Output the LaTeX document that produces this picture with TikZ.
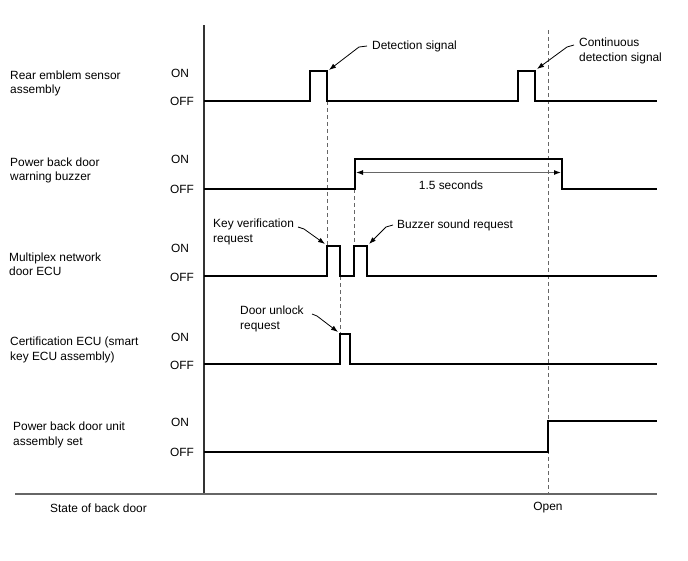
\documentclass[tikz,border=0pt]{standalone}
\usepackage{fontspec}
\setmainfont{Liberation Sans}
\usetikzlibrary{arrows.meta}
\begin{document}
\begin{tikzpicture}[x=1pt,y=-1pt,
  sig/.style={line width=2.3pt, line join=miter},
  axisline/.style={line width=1.1pt, draw=black!80},
  baseline/.style={line width=1.6pt, draw=black!60},
  guide/.style={dash pattern=on 4pt off 3pt, line width=0.9pt, draw=black!60},
  leader/.style={line width=0.8pt, -{Latex[length=7pt,width=5pt]}},
  dimline/.style={line width=1.1pt, draw=black!60, {Latex[length=7pt,width=5pt,color=black]}-{Latex[length=7pt,width=5pt,color=black]}},
  lbl/.style={anchor=west, inner sep=0pt, align=left, font=\fontsize{11.9}{14.5}\selectfont},
  ctr/.style={anchor=center, inner sep=0pt, font=\fontsize{11.9}{14.5}\selectfont}]
\useasboundingbox (0,0) rectangle (688,560);
\fill[white] (0,0) rectangle (688,560);

% axes
\coordinate (axT) at (204,25);
\coordinate (axB) at (204,494);
\coordinate (blL) at (15,494);
\coordinate (blR) at (657,494);
\draw[axisline] (axT) -- (axB);
\draw[baseline] (blL) -- (blR);

% guide lines
\coordinate (g1a) at (327,101); \coordinate (g1b) at (327,246);
\coordinate (g2a) at (354,189); \coordinate (g2b) at (354,246);
\coordinate (g3a) at (340,276); \coordinate (g3b) at (340,334);
\coordinate (g4a) at (548,30);  \coordinate (g4b) at (548,494);
\draw[guide] (g1a) -- (g1b);
\draw[guide] (g2a) -- (g2b);
\draw[guide] (g3a) -- (g3b);
\draw[guide] (g4a) -- (g4b);

% row labels
\node[lbl] (r1) at (10,83.5) {Rear emblem sensor\\assembly};
\node[lbl] (r2) at (10,170.5) {Power back door\\warning buzzer};
\node[lbl] (r3) at (9,264) {Multiplex network\\door ECU};
\node[lbl] (r4) at (10,350) {Certification ECU (smart\\key ECU assembly)};
\node[lbl] (r5) at (13,435) {Power back door unit\\assembly set};
\node[lbl] (st) at (50,508) {State of back door};
\node[ctr] (op) at (548,508) {Open};

% ON / OFF labels
\foreach \n/\on/\off in {1/73/101, 2/159/189, 3/248/277, 4/337/365, 5/422/452}{
  \node[lbl] (on\n) at (171,\on) {ON};
  \node[lbl] (off\n) at (170,\off) {OFF};
}

% waveforms
\draw[sig] (204,101) -- (310,101) -- (310,71) -- (327,71) -- (327,101) -- (518,101) -- (518,71) -- (535,71) -- (535,101) -- (657,101);
\draw[sig] (204,189) -- (355,189) -- (355,159) -- (562,159) -- (562,189) -- (657,189);
\draw[sig] (204,276) -- (327,276) -- (327,246) -- (340,246) -- (340,276) -- (354,276) -- (354,246) -- (367,246) -- (367,276) -- (657,276);
\draw[sig] (204,364) -- (340,364) -- (340,334) -- (350,334) -- (350,364) -- (657,364);
\draw[sig] (204,452) -- (548,452) -- (548,421) -- (657,421);

% annotations
\node[lbl] (det) at (372,46) {Detection signal};
\node[lbl] (cont) at (579,51) {Continuous\\detection signal};
\node[lbl] (key) at (213,232) {Key verification\\request};
\node[lbl] (buz) at (397,225) {Buzzer sound request};
\node[lbl] (door) at (240,319) {Door unlock\\request};
\node[ctr] (dur) at (451,185) {1.5 seconds};

\coordinate (detT) at (329,70);
\coordinate (contT) at (537,69);
\coordinate (keyT) at (325,244);
\coordinate (buzT) at (369,244);
\coordinate (doorT) at (338,332);
\draw[leader] (367,46) -- (359,47) -- (detT);
\draw[leader] (574,45) -- (567,47) -- (contT);
\draw[leader] (298,227) -- (304,229) -- (keyT);
\draw[leader] (393,225) -- (386,227) -- (buzT);
\draw[leader] (312,314) -- (317,316) -- (doorT);

\coordinate (dimL) at (356,172.5);
\coordinate (dimR) at (561,172.5);
\draw[dimline] (dimL) -- (dimR);
\end{tikzpicture}
\end{document}
